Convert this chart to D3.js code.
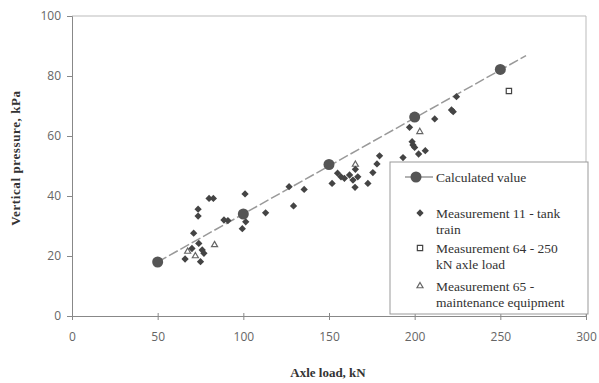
<!DOCTYPE html>
<html>
<head>
<meta charset="utf-8">
<script src="https://cdn.jsdelivr.net/npm/d3@7"></script>
<style>
  body { margin: 0; background: #fff; }
  svg { display: block; }
  .tick text { font-family: "Open Sans", sans-serif; font-size: 12px; fill: #666; }
  .axis path, .axis line { stroke: #888; }
</style>
</head>
<body>
<div id="chart"></div>
<script>
// chart values
var xTicks = [0, 50, 100, 150, 200, 250, 300];
var yTicks = [0, 20, 40, 60, 80, 100];

var calcLoad = [50, 100, 150, 200, 250];
var calcPressure = [18, 34, 50.5, 66.3, 82.2];

// end points of the calculated-value line
var lineLoad = [50, 265];
var linePressure = [18, 86.8];

// Measurement 11 - tank train  [load, pressure]
var m11 = [
  [66, 19], [70, 22.5], [74, 24.2], [76, 22], [77, 20.9], [75, 18.1], [71, 27.6],
  [73.6, 33.3], [73.6, 35.6], [80, 39.2], [82.5, 39.2], [88.7, 32], [91, 31.8],
  [99.4, 29.1], [101, 40.7], [101.4, 31.4], [113, 34.4], [126.7, 43.1], [129.3, 36.7],
  [135.5, 42.2], [151.8, 44.2], [155, 47.6], [157, 46.4], [159, 45.9], [162, 47],
  [164, 45.3], [166.8, 46.4], [165.4, 48.9], [165.2, 42.9], [172.7, 44.2], [175.6, 47.8],
  [178, 50.7], [179.5, 53.4], [193.2, 52.8], [197, 62.9], [198.5, 58.1], [199, 57],
  [200, 56.2], [202.3, 54], [206.2, 55.1], [211.7, 65.7], [221.5, 68.7], [222.5, 68.1],
  [224.4, 73.1]
];

// Measurement 64 - 250 kN axle load
var m64 = [[255, 75]];

// Measurement 65 - maintenance equipment
var m65 = [[67.5, 21.5], [72, 20], [83.2, 23.7], [165.4, 50.5], [203, 61.4]];

var legendLabels = [
  ["Calculated value"],
  ["Measurement 11 - tank", "train"],
  ["Measurement 64 - 250", "kN axle load"],
  ["Measurement 65 -", "maintenance equipment"]
];

var width = 599, height = 383;
var padL = 72, padR = 586, padT = 16, padB = 316;

var svg = d3.select("#chart").append("svg")
  .attr("width", width)
  .attr("height", height);

var x = d3.scaleLinear().domain([0, 300]).range([padL, padR]);
var y = d3.scaleLinear().domain([0, 100]).range([padB, padT]);

// frame (top and right)
svg.append("path")
  .attr("d", "M" + padL + "," + padT + "H" + padR + "V" + padB)
  .attr("fill", "none")
  .attr("stroke", "#bbb");

var xAxis = d3.axisBottom(x).tickValues(xTicks).tickSize(4).tickPadding(12);
var yAxis = d3.axisLeft(y).tickValues(yTicks).tickSize(5).tickPadding(6);

svg.append("g")
  .attr("class", "axis")
  .attr("transform", "translate(0," + padB + ")")
  .call(xAxis)
  .call(function(g) { g.selectAll(".tick line").attr("y1", -3); });

svg.append("g")
  .attr("class", "axis")
  .attr("transform", "translate(" + padL + ",0)")
  .call(yAxis);

// axis titles
svg.append("text")
  .attr("x", 328).attr("y", 377)
  .attr("text-anchor", "middle")
  .attr("font-family", "Liberation Serif, serif")
  .attr("font-weight", "bold")
  .attr("font-size", 13)
  .attr("fill", "#333")
  .text("Axle load, kN");

svg.append("text")
  .attr("transform", "translate(20,158) rotate(-90)")
  .attr("text-anchor", "middle")
  .attr("font-family", "Liberation Serif, serif")
  .attr("font-weight", "bold")
  .attr("font-size", 13)
  .attr("letter-spacing", 0.6)
  .attr("fill", "#333")
  .text("Vertical pressure, kPa");

// calculated line
svg.append("line")
  .attr("x1", x(lineLoad[0])).attr("y1", y(linePressure[0]))
  .attr("x2", x(lineLoad[1])).attr("y2", y(linePressure[1]))
  .attr("stroke", "#999")
  .attr("stroke-width", 1.5)
  .attr("stroke-dasharray", "10,3");

var diamond = d3.symbol().type(d3.symbolDiamond2).size(34);
var tri = d3.symbol().type(d3.symbolTriangle2).size(26);
var sq = d3.symbol().type(d3.symbolSquare2).size(36);

svg.selectAll(".m65").data(m65).enter().append("path")
  .attr("class", "m65")
  .attr("transform", function(d) { return "translate(" + x(d[0]) + "," + y(d[1]) + ")"; })
  .attr("d", tri)
  .attr("fill", "none")
  .attr("stroke", "#666")
  .attr("stroke-width", 1.2);

svg.selectAll(".m11").data(m11).enter().append("path")
  .attr("class", "m11")
  .attr("transform", function(d) { return "translate(" + x(d[0]) + "," + y(d[1]) + ")"; })
  .attr("d", diamond)
  .attr("fill", "#444");

svg.selectAll(".m64").data(m64).enter().append("path")
  .attr("class", "m64")
  .attr("transform", function(d) { return "translate(" + x(d[0]) + "," + y(d[1]) + ")"; })
  .attr("d", sq)
  .attr("fill", "#fff")
  .attr("stroke", "#444")
  .attr("stroke-width", 1.2);

svg.selectAll(".calc").data(calcLoad).enter().append("circle")
  .attr("class", "calc")
  .attr("cx", function(d) { return x(d); })
  .attr("cy", function(d, i) { return y(calcPressure[i]); })
  .attr("r", 5.5)
  .attr("fill", "#555");

// legend
var lg = svg.append("g").attr("transform", "translate(390,162)");
lg.append("rect")
  .attr("width", 198).attr("height", 152)
  .attr("fill", "#fff")
  .attr("stroke", "#999");

var rowY = [15, 51, 86, 124];
var lineGap = 16;

lg.append("line").attr("x1", 15).attr("x2", 43).attr("y1", rowY[0]).attr("y2", rowY[0])
  .attr("stroke", "#999").attr("stroke-width", 1.5);
lg.append("circle").attr("cx", 26).attr("cy", rowY[0]).attr("r", 5.5).attr("fill", "#555");
lg.append("path").attr("transform", "translate(30," + rowY[1] + ")").attr("d", diamond).attr("fill", "#444");
lg.append("path").attr("transform", "translate(30," + rowY[2] + ")").attr("d", sq)
  .attr("fill", "#fff").attr("stroke", "#444").attr("stroke-width", 1.2);
lg.append("path").attr("transform", "translate(30," + rowY[3] + ")").attr("d", tri)
  .attr("fill", "none").attr("stroke", "#666").attr("stroke-width", 1.2);

legendLabels.forEach(function(lines, i) {
  var t = lg.append("text")
    .attr("x", 46).attr("y", rowY[i] + 4.5)
    .attr("font-family", "Liberation Serif, serif")
    .attr("font-size", 13.5)
    .attr("fill", "#333");
  lines.forEach(function(s, j) {
    t.append("tspan").attr("x", 46).attr("dy", j === 0 ? 0 : lineGap).text(s);
  });
});
</script>
</body>
</html>
